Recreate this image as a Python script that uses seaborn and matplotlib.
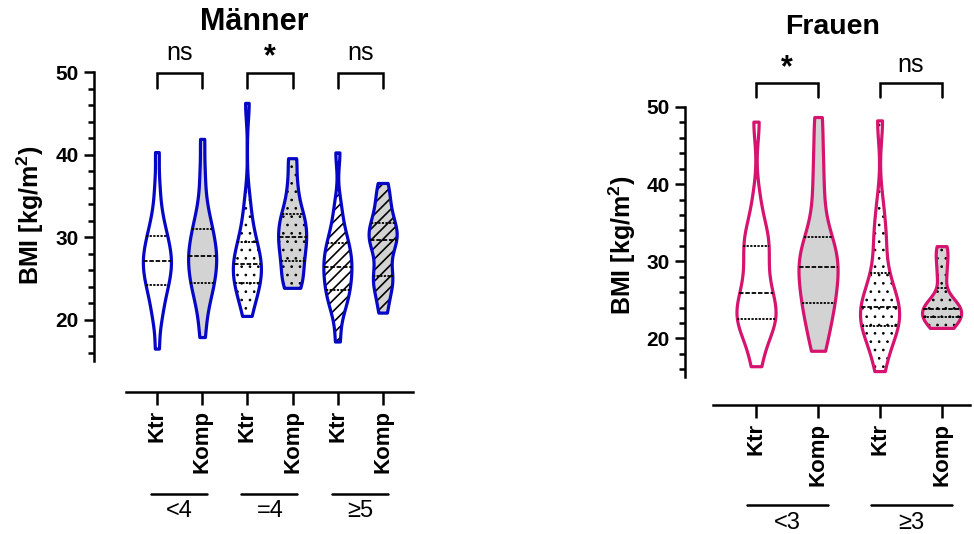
import numpy as np
import pandas as pd
import matplotlib
matplotlib.use("Agg")
import matplotlib.pyplot as plt
import seaborn as sns
from matplotlib.patches import PathPatch
from matplotlib.collections import PolyCollection
from matplotlib.ticker import MultipleLocator

# ---------------- data (BMI values) ----------------
men_categories = ["Ktr <4", "Komp <4", "Ktr =4", "Komp =4", "Ktr ≥5", "Komp ≥5"]
men_ticklabels = ["Ktr", "Komp", "Ktr", "Komp", "Ktr", "Komp"]
men_groups = ["<4", "=4", "≥5"]
men_signif = ["ns", "*", "ns"]

men_ktr_lt4 = [16.5, 19.8, 21.0, 22.3, 23.2, 24.0, 24.5, 25.1, 25.6, 26.2, 26.8, 27.1,
               27.5, 28.0, 28.6, 29.2, 29.8, 30.5, 31.2, 32.4, 34.0, 36.5, 40.3]
men_komp_lt4 = [17.9, 20.5, 22.0, 23.3, 24.0, 24.5, 25.3, 26.0, 26.6, 27.2, 27.7,
                28.2, 28.8, 29.5, 30.3, 31.0, 31.8, 33.0, 35.0, 38.0, 41.9]
men_ktr_eq4 = [20.4, 22.0, 23.0, 23.8, 24.4, 25.0, 25.6, 26.2, 26.7, 27.2, 27.8,
               28.5, 29.4, 30.5, 32.0, 34.5, 46.2]
men_komp_eq4 = [23.8, 24.8, 26.4, 27.8, 29.0, 30.0, 31.0, 32.2, 33.3, 36.0, 39.5]
men_ktr_ge5 = [17.3, 20.5, 21.8, 22.6, 23.3, 23.9, 24.6, 25.3, 25.9, 26.4, 27.0,
               27.6, 28.2, 28.9, 29.6, 30.5, 32.0, 34.0, 40.2]
men_komp_ge5 = [20.8, 22.8, 24.2, 25.0, 25.6, 27.5, 28.8, 29.6, 30.0, 30.6, 31.3,
                32.2, 33.5, 35.0, 36.5]

women_categories = ["Ktr <3", "Komp <3", "Ktr ≥3", "Komp ≥3"]
women_ticklabels = ["Ktr", "Komp", "Ktr", "Komp"]
women_groups = ["<3", "≥3"]
women_signif = ["*", "ns"]

women_ktr_lt3 = [16.4, 19.0, 20.8, 21.8, 22.3, 22.8, 23.3, 24.0, 25.0, 25.9, 27.0,
                 28.5, 30.0, 31.5, 32.5, 33.5, 34.5, 38.0, 48.1]
women_komp_lt3 = [18.4, 20.5, 22.5, 24.0, 24.6, 26.3, 27.3, 28.4, 29.3, 30.2, 31.2,
                  32.4, 33.2, 36.5, 40.0, 44.0, 48.7]
women_ktr_ge3 = [15.7, 18.5, 20.0, 21.0, 21.6, 22.3, 23.0, 23.6, 24.1, 24.8, 25.8,
                 27.2, 28.5, 32.0, 33.5, 37.0, 48.2]
women_komp_ge3 = [21.3, 21.9, 22.5, 23.1, 23.5, 23.8, 24.4, 25.2, 28.0, 30.2, 31.9]

men_values = [men_ktr_lt4, men_komp_lt4, men_ktr_eq4, men_komp_eq4, men_ktr_ge5, men_komp_ge5]
women_values = [women_ktr_lt3, women_komp_lt3, women_ktr_ge3, women_komp_ge3]

# ---------------- styles ----------------
BLUE = "#0606C6"
PINK = "#D6136F"
GRAY = "#D3D3D3"
men_fills = ["white", GRAY, "white", GRAY, "white", GRAY]
men_hatches = [None, None, "..", "..", "///", "///"]
women_fills = ["white", GRAY, "white", GRAY]
women_hatches = [None, None, "..", ".."]

sns.set_style("ticks")
plt.rcParams["font.family"] = ["Liberation Sans", "DejaVu Sans"]
plt.rcParams["mathtext.fontset"] = "custom"
plt.rcParams["mathtext.rm"] = "Liberation Sans"
plt.rcParams["mathtext.bf"] = "Liberation Sans:bold"
for k in ["text.color", "axes.labelcolor", "xtick.color", "ytick.color", "axes.edgecolor"]:
    plt.rcParams[k] = "black"

fig = plt.figure(figsize=(9.74, 5.34), dpi=100)
W, H = 974, 534
ax1 = fig.add_axes([94 / W, 1 - 361 / H, 319 / W, 289 / H])
ax2 = fig.add_axes([685 / W, 1 - 377 / H, 285 / W, 270 / H])


def draw_panel(ax, categories, values, fills, hatches, color, width, ticklabels,
               xlim, bounds, outward, ylab_xy, groups, grp_off, grp_line_y, grp_text_y,
               signif, br_top, br_bot, sig_y):
    df = pd.DataFrame({
        "cat": np.repeat(categories, [len(v) for v in values]),
        "bmi": np.concatenate([np.asarray(v, float) for v in values]),
    })
    sns.violinplot(data=df, x="cat", y="bmi", hue="cat", order=categories,
                   hue_order=categories, palette=dict(zip(categories, fills)),
                   linecolor=color, linewidth=2.3, inner="quart",
                   inner_kws=dict(color="black", linewidth=1.3),
                   cut=0, density_norm="width", width=width, bw_adjust=0.6,
                   saturation=1, legend=False, ax=ax)
    colls = [c for c in ax.collections if isinstance(c, PolyCollection)]
    for c, h in zip(colls, hatches):
        c.set_joinstyle("round")
        if h:
            lw = 0.7 if "." in h else 1.2
            with plt.rc_context({"hatch.linewidth": lw}):
                p = PathPatch(c.get_paths()[0], facecolor=c.get_facecolor()[0],
                              edgecolor="black", lw=0, hatch=h,
                              zorder=c.get_zorder() - 0.05, transform=c.get_transform())
            ax.add_patch(p)
            c.set_facecolor("none")

    for s in ["top", "right"]:
        ax.spines[s].set_visible(False)
    for s in ["left", "bottom"]:
        ax.spines[s].set_linewidth(1.8)
        ax.spines[s].set_color("black")
    ax.spines["bottom"].set_position(("outward", outward))
    ax.spines["bottom"].set_bounds(*bounds)

    ax.set_ylim(15, 50)
    ax.set_xlim(*xlim)
    ax.set_yticks([20, 30, 40, 50])
    ax.yaxis.set_minor_locator(MultipleLocator(2))
    ax.tick_params(axis="y", which="major", length=7, width=1.8, pad=4, labelsize=15)
    ax.tick_params(axis="y", which="minor", length=4.5, width=1.8)
    ax.tick_params(axis="x", which="major", length=9, width=1.8, pad=4,
                   labelsize=16, labelrotation=90)
    ax.set_xticks(range(len(categories)))
    ax.set_xticklabels(ticklabels, rotation=90, fontweight="bold", fontsize=16,
                       va="top", ha="center")
    for lab in ax.get_yticklabels():
        lab.set_fontweight("bold")
    ax.set_xlabel("")
    ax.set_ylabel(r"BMI [kg/m$^{\mathbf{2}}$)", fontsize=18, fontweight="bold")
    ax.yaxis.set_label_coords(*ylab_xy)

    trans = ax.get_xaxis_transform()
    for i, g in enumerate(groups):
        x0, x1 = 2 * i, 2 * i + 1
        ax.plot([x0 + grp_off[0], x1 + grp_off[1]], [grp_line_y, grp_line_y],
                color="black", lw=1.8, transform=trans, clip_on=False)
        ax.text((x0 + x1) / 2, grp_text_y, g, transform=trans, ha="center",
                va="center", fontsize=17, clip_on=False)
        ax.plot([x0, x0, x1, x1], [br_bot, br_top, br_top, br_bot], color="black",
                lw=1.8, clip_on=False, solid_joinstyle="miter")
        s = signif[i]
        if s == "*":
            ax.text((x0 + x1) / 2, sig_y - 0.9, s, ha="center", va="center",
                    fontsize=22, fontweight="bold", clip_on=False)
        else:
            ax.text((x0 + x1) / 2, sig_y - 0.4, s, ha="center", va="center",
                    fontsize=18, clip_on=False)


draw_panel(ax1, men_categories, men_values, men_fills, men_hatches, BLUE, 0.62,
           men_ticklabels, (-1.39, 5.66), (-0.69, 5.66), 22.3, (-0.15, 0.505),
           men_groups, (-0.14, 0.1), -0.46, -0.52, men_signif, 49.9, 48.1, 52.7)
draw_panel(ax2, women_categories, women_values, women_fills, women_hatches, PINK, 0.63,
           women_ticklabels, (-1.145, 3.45), (-0.69, 3.45), 20.2, (-0.165, 0.489),
           women_groups, (-0.14, 0.16), -0.474, -0.54, women_signif, 53.1, 51.3, 55.9)

fig.text(254 / W, 1 - 22 / H, "Männer", ha="center", va="center", fontsize=22,
         fontweight="bold")
fig.text(833 / W, 1 - 27 / H, "Frauen", ha="center", va="center", fontsize=20.5,
         fontweight="bold")

fig.savefig("out.png", dpi=100)
